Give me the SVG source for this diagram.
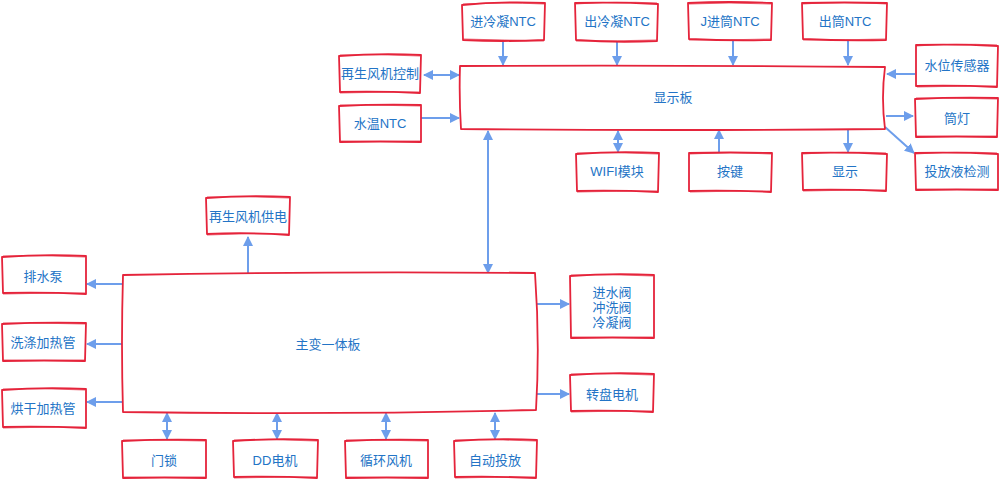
<svg xmlns="http://www.w3.org/2000/svg" width="1000" height="483" viewBox="0 0 1000 483">
<defs>
<style>
.b{fill:#fff;stroke:#e5243b;stroke-width:1.8;stroke-linejoin:round}
.b2{fill:none;stroke:#e5243b;stroke-width:1;opacity:.7}
.t{font-family:"Liberation Sans","Noto Sans CJK SC",sans-serif;font-size:13px;fill:#2374c6;text-anchor:middle;dominant-baseline:central}
.c{fill:none;stroke:#6d9eeb;stroke-width:2}
.a{marker-end:url(#ah)}
.d{marker-start:url(#ah);marker-end:url(#ah)}
</style>
<marker id="ah" viewBox="0 0 10 10" refX="9" refY="5" markerWidth="5" markerHeight="5" orient="auto-start-reverse" markerUnits="strokeWidth">
<path d="M0,0 L10,5 L0,10 Z" fill="#6d9eeb"/>
</marker>
</defs>
<rect width="1000" height="483" fill="#fff"/>

<g id="connectors">
<path class="c a" d="M503,40 V65"/>
<path class="c a" d="M617,41 V65"/>
<path class="c a" d="M733,40 V65"/>
<path class="c a" d="M848,40 V65"/>
<path class="c d" d="M424,75 H459"/>
<path class="c a" d="M421,118 H459"/>
<path class="c a" d="M915,74 H887"/>
<path class="c a" d="M886,116 H913"/>
<path class="c a" d="M885,127 L914,153"/>
<path class="c d" d="M618,131 V152"/>
<path class="c a" d="M719,153 V130"/>
<path class="c a" d="M848,130 V152"/>
<path class="c d" d="M488,273 V131"/>
<path class="c a" d="M248,273 V237"/>
<path class="c a" d="M122,284 H87"/>
<path class="c a" d="M122,344 H87"/>
<path class="c a" d="M122,402 H87"/>
<path class="c a" d="M535,304 H569"/>
<path class="c a" d="M535,394 H569"/>
<path class="c d" d="M167,413 V439"/>
<path class="c d" d="M277,413 V439"/>
<path class="c d" d="M386,413 V439"/>
<path class="c d" d="M495,413 V439"/>
</g>

<g id="n-jlnt"><path class="b" d="M462,5 Q503,1 545,3 L544,40 Q503,42 463,40 Z"/><path class="b2" d="M463,4 Q500,2 544,4 M463,39 Q505,40 544,41"/><text class="t" x="503" y="21">进冷凝NTC</text></g>
<g id="n-clnt"><path class="b" d="M575,3 Q617,2 658,4 L657,41 Q616,43 576,40 Z"/><path class="b2" d="M576,4 Q615,1 657,3 M576,41 Q618,41 657,40"/><text class="t" x="617" y="21">出冷凝NTC</text></g>
<g id="n-jtntc"><path class="b" d="M688,3 Q730,1 772,3 L771,40 Q730,41 689,39 Z"/><path class="b2" d="M689,4 Q728,2 771,4 M689,40 Q731,40 771,39"/><text class="t" x="730" y="21">J进筒NTC</text></g>
<g id="n-ctntc"><path class="b" d="M802,3 Q845,2 887,3 L886,40 Q845,41 803,39 Z"/><path class="b2" d="M803,4 Q843,1 886,4 M803,40 Q846,40 886,39"/><text class="t" x="845" y="21">出筒NTC</text></g>
<g id="n-zskz"><path class="b" d="M339,56 Q380,53 421,55 L420,93 Q380,91 340,92 Z"/><path class="b2" d="M340,55 Q382,54 420,56 M340,93 Q378,92 420,92"/><text class="t" x="380" y="73">再生风机控制</text></g>
<g id="n-swntc"><path class="b" d="M339,106 Q380,104 421,105 L421,142 Q380,141 340,142 Z"/><path class="b2" d="M340,105 Q382,105 420,106 M340,141 Q378,142 420,141"/><text class="t" x="380" y="123">水温NTC</text></g>
<g id="n-xsb"><path class="b" d="M460,66 Q672,65 885,67 Q881,98 885,129 Q672,131 461,129 Q459,98 460,66 Z"/><text class="t" x="673" y="97">显示板</text></g>
<g id="n-swcgq"><path class="b" d="M916,45 Q957,44 998,46 L997,87 Q957,85 916,86 Z"/><path class="b2" d="M916,46 Q955,43 997,45 M917,87 Q958,86 997,86"/><text class="t" x="957" y="65">水位传感器</text></g>
<g id="n-td"><path class="b" d="M915,99 Q957,97 998,98 L997,137 Q957,136 916,137 Z"/><path class="b2" d="M916,98 Q956,98 997,99 M916,136 Q958,137 997,136"/><text class="t" x="957" y="118">筒灯</text></g>
<g id="n-tfy"><path class="b" d="M915,153 Q957,152 998,154 L998,190 Q957,189 916,190 Z"/><path class="b2" d="M916,154 Q955,151 997,153 M916,189 Q958,190 997,189"/><text class="t" x="957" y="171">投放液检测</text></g>
<g id="n-wifi"><path class="b" d="M576,154 Q617,151 659,153 L658,192 Q617,190 577,191 Z"/><path class="b2" d="M577,153 Q619,152 658,154 M577,192 Q616,191 658,191"/><text class="t" x="617" y="171">WIFI模块</text></g>
<g id="n-aj"><path class="b" d="M689,153 Q730,152 772,153 L771,192 Q730,190 689,191 Z"/><path class="b2" d="M690,154 Q731,151 771,154 M690,192 Q729,191 771,191"/><text class="t" x="730" y="171">按键</text></g>
<g id="n-xs"><path class="b" d="M802,153 Q845,152 887,154 L886,191 Q845,189 803,190 Z"/><path class="b2" d="M803,154 Q843,151 886,153 M803,191 Q846,190 886,190"/><text class="t" x="845" y="171">显示</text></g>
<g id="n-zsgd"><path class="b" d="M206,198 Q248,195 290,197 L289,235 Q248,232 207,234 Z"/><path class="b2" d="M207,197 Q250,196 289,198 M207,235 Q246,233 289,234"/><text class="t" x="248" y="216">再生风机供电</text></g>
<g id="n-psb"><path class="b" d="M2,257 Q44,254 86,256 L86,294 Q44,292 3,293 Z"/><path class="b2" d="M3,256 Q46,255 85,257 M3,294 Q42,293 85,293"/><text class="t" x="43" y="276">排水泵</text></g>
<g id="n-zb"><path class="b" d="M123,275 Q330,271 535,273 Q540,343 536,410 Q330,415 123,412 Q121,343 123,275 Z"/><text class="t" x="328" y="344">主变一体板</text></g>
<g id="n-xd"><path class="b" d="M2,324 Q44,322 86,323 L85,361 Q44,360 3,361 Z"/><path class="b2" d="M3,323 Q46,323 85,324 M3,360 Q42,361 85,360"/><text class="t" x="43" y="342">洗涤加热管</text></g>
<g id="n-hg"><path class="b" d="M2,390 Q44,387 86,389 L86,428 Q44,426 3,427 Z"/><path class="b2" d="M3,389 Q46,388 85,390 M3,428 Q42,427 85,427"/><text class="t" x="43" y="408">烘干加热管</text></g>
<g id="n-fa"><path class="b" d="M570,276 Q612,273 654,275 L654,338 Q612,337 571,338 Z"/><path class="b2" d="M571,275 Q614,274 653,276 M571,337 Q610,338 653,337"/><text class="t" x="612" y="292">进水阀</text><text class="t" x="612" y="307">冲洗阀</text><text class="t" x="612" y="322">冷凝阀</text></g>
<g id="n-zp"><path class="b" d="M570,375 Q612,372 654,374 L653,412 Q612,410 571,411 Z"/><path class="b2" d="M571,374 Q614,373 653,375 M571,412 Q610,411 653,411"/><text class="t" x="612" y="394">转盘电机</text></g>
<g id="n-ms"><path class="b" d="M122,441 Q164,439 206,440 L206,478 Q164,477 123,478 Z"/><path class="b2" d="M123,440 Q166,440 205,441 M123,477 Q162,478 205,477"/><text class="t" x="164" y="460">门锁</text></g>
<g id="n-dd"><path class="b" d="M233,441 Q275,438 318,440 L317,478 Q275,476 234,477 Z"/><path class="b2" d="M234,440 Q277,439 317,441 M234,478 Q273,477 317,477"/><text class="t" x="275" y="460">DD电机</text></g>
<g id="n-xhfj"><path class="b" d="M345,441 Q386,439 428,440 L428,478 Q386,477 346,478 Z"/><path class="b2" d="M346,440 Q388,440 427,441 M346,477 Q384,478 427,477"/><text class="t" x="386" y="460">循环风机</text></g>
<g id="n-zdtf"><path class="b" d="M454,441 Q495,438 537,440 L536,478 Q495,476 455,477 Z"/><path class="b2" d="M455,440 Q497,439 536,441 M455,478 Q493,477 536,477"/><text class="t" x="495" y="460">自动投放</text></g>
</svg>
